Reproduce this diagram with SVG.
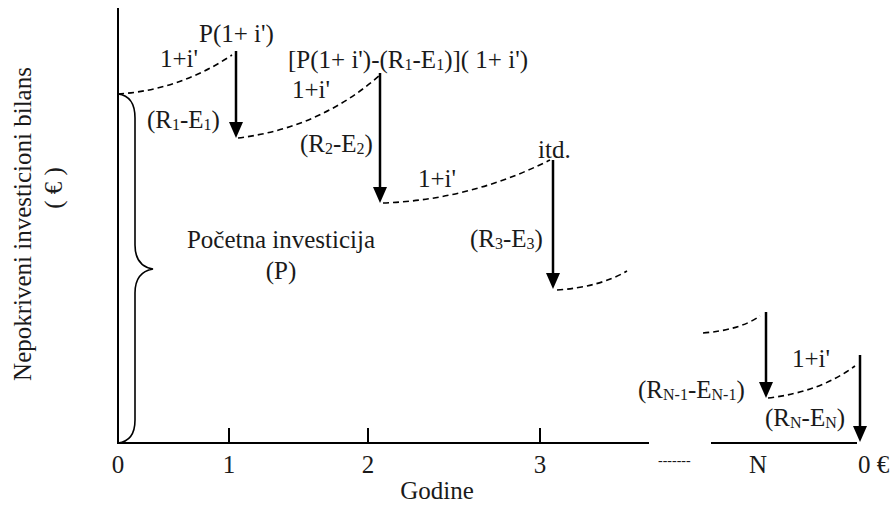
<svg xmlns="http://www.w3.org/2000/svg" width="892" height="505" viewBox="0 0 892 505">
<style>
text{font-family:'Liberation Serif','DejaVu Serif',serif;font-size:25px;fill:#1a1a1a}
.ax{stroke:#000;stroke-width:2;fill:none}
.dash{stroke:#000;stroke-width:1.6;fill:none;stroke-dasharray:6 4}
.arr{stroke:#000;stroke-width:2.5;fill:none;marker-end:url(#ah)}
.br{stroke:#000;stroke-width:1.6;fill:none}
.s{font-size:16px}
.c{text-anchor:middle}
</style>
<defs>
<marker id="ah" markerUnits="userSpaceOnUse" markerWidth="16" markerHeight="14" refX="8" refY="7" orient="auto">
<path d="M0,0 L16,7 L0,14 z" fill="#000"/>
</marker>
</defs>
<g id="axes">
<line class="ax" x1="118" y1="8" x2="118" y2="443"/>
<line class="ax" x1="117" y1="443" x2="649" y2="443"/>
<line class="ax" x1="711" y1="443" x2="857" y2="443"/>
<line class="ax" x1="229" y1="428" x2="229" y2="443"/>
<line class="ax" x1="368" y1="428" x2="368" y2="443"/>
<line class="ax" x1="540" y1="428" x2="540" y2="443"/>
</g>
<g id="brace">
<path class="br" d="M118,94 Q135,96 135,118 L135,245 Q135,266 153,269 Q135,272 135,293 L135,420 Q135,441 118,443"/>
</g>
<g id="connectors">
<path class="dash" d="M118,94 Q180,90 232,55"/>
<path class="dash" d="M238,138 Q320,128 380,75"/>
<path class="dash" d="M383,203 Q470,200 550,160"/>
<path class="dash" d="M557,290 Q600,287 627,271"/>
<path class="dash" d="M703,333 Q740,330 760,316"/>
<path class="dash" d="M768,398 Q820,392 855,366"/>
<line class="arr" x1="236" y1="51" x2="236" y2="130"/>
<line class="arr" x1="380" y1="73" x2="380" y2="195"/>
<line class="arr" x1="553" y1="160" x2="553" y2="281"/>
<line class="arr" x1="766" y1="312" x2="766" y2="390"/>
<line class="arr" x1="860" y1="355" x2="860" y2="434"/>
</g>
<g id="labels" font-family="Liberation Serif, serif">
<text x="199" y="42">P(1+ i')</text>
<text x="160" y="67">1+i'</text>
<text x="147" y="128">(R<tspan class="s" dy="2">1</tspan><tspan dy="-2">-E</tspan><tspan class="s" dy="2">1</tspan><tspan dy="-2">)</tspan></text>
<text x="288" y="68">[P(1+ i')-(R<tspan class="s" dy="2">1</tspan><tspan dy="-2">-E</tspan><tspan class="s" dy="2">1</tspan><tspan dy="-2">)]( 1+ i')</tspan></text>
<text x="292" y="98">1+i'</text>
<text x="300" y="152">(R<tspan class="s" dy="2">2</tspan><tspan dy="-2">-E</tspan><tspan class="s" dy="2">2</tspan><tspan dy="-2">)</tspan></text>
<text x="418" y="187">1+i'</text>
<text x="538" y="158">itd.</text>
<text class="c" x="281" y="248">Početna investicija</text>
<text class="c" x="281" y="279">(P)</text>
<text x="470" y="247">(R<tspan class="s" dy="2">3</tspan><tspan dy="-2">-E</tspan><tspan class="s" dy="2">3</tspan><tspan dy="-2">)</tspan></text>
<text x="638" y="398">(R<tspan class="s" dy="2">N-1</tspan><tspan dy="-2">-E</tspan><tspan class="s" dy="2">N-1</tspan><tspan dy="-2">)</tspan></text>
<text x="792" y="367">1+i'</text>
<text x="765" y="426">(R<tspan class="s" dy="2">N</tspan><tspan dy="-2">-E</tspan><tspan class="s" dy="2">N</tspan><tspan dy="-2">)</tspan></text>
<text class="c" x="118" y="473">0</text>
<text class="c" x="229" y="473">1</text>
<text class="c" x="368" y="473">2</text>
<text class="c" x="540" y="473">3</text>
<text class="c" x="758" y="473">N</text>
<text x="858" y="473">0 €</text>
<text x="658" y="465" style="font-size:14px">-------</text>
<text class="c" x="437" y="499">Godine</text>
<text class="c" transform="translate(31,224) rotate(-90)">Nepokriveni investicioni bilans</text>
<text class="c" transform="translate(62,188) rotate(-90)">( € )</text>
</g>
</svg>
